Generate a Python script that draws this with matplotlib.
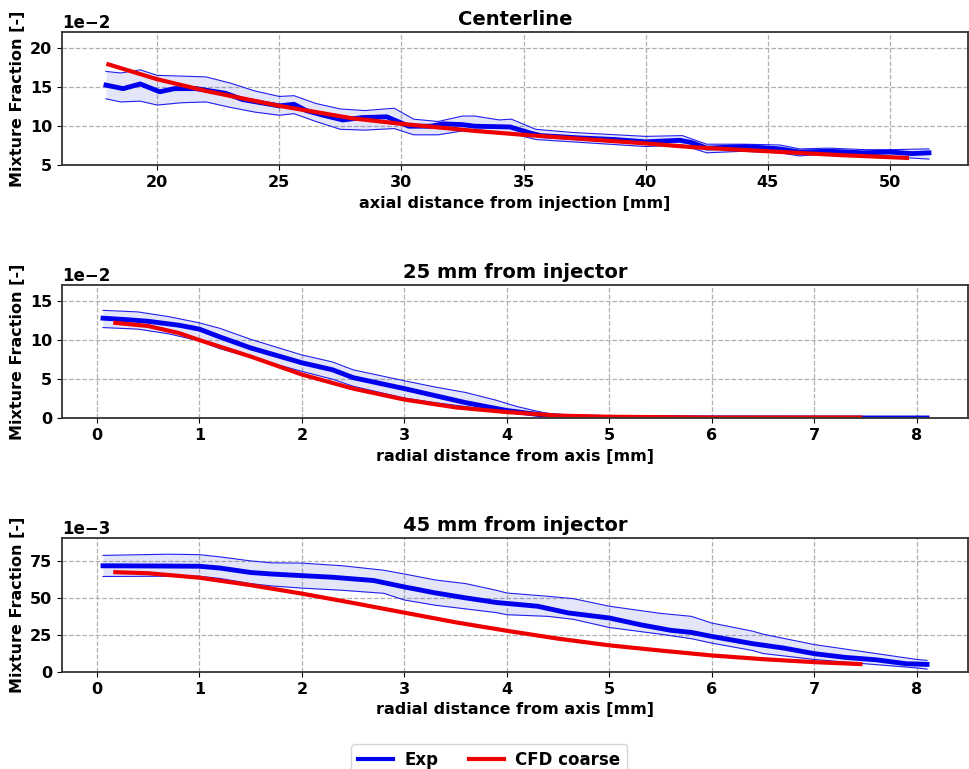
import numpy as np
import matplotlib
matplotlib.use("Agg")
import matplotlib.pyplot as plt
from matplotlib.ticker import MultipleLocator

# ---------------- Data ----------------
# Panel 1: Centerline (values in units of 1e-2)
cl_x_mean = [17.9, 18.6, 19.3, 20.1, 20.7, 21.6, 22.8, 23.5, 25.0, 25.6, 26.1, 26.8, 27.6, 28.4, 29.4, 29.7,
             30.3, 31.2, 31.7, 32.5, 33.0, 34.45, 35.3, 35.7, 37.3, 38.7, 40.0, 41.4, 41.9, 42.5, 44.1, 45.5,
             46.3, 47.5, 48.9, 50.0, 50.9, 51.6]
cl_mean = [15.25, 14.8, 15.4, 14.4, 14.8, 14.8, 14.2, 13.4, 12.6, 12.8, 12.0, 11.4, 10.8, 11.1, 11.2, 10.8,
           10.0, 10.0, 10.3, 10.2, 10.0, 9.9, 9.1, 8.8, 8.5, 8.3, 8.0, 8.2, 7.9, 7.2, 7.4, 7.1,
           6.7, 6.8, 6.6, 6.7, 6.5, 6.6]
cl_x_band = [17.9, 18.5, 19.3, 20.0, 21.0, 22.0, 23.0, 24.0, 25.0, 25.6, 26.5, 27.5, 28.5, 29.7, 30.5, 31.5,
             32.5, 33.0, 34.0, 34.5, 35.5, 37.0, 40.0, 41.5, 42.5, 44.0, 45.5, 46.3, 47.5, 49.0, 50.0, 51.6]
cl_upper = [17.0, 16.8, 17.2, 16.5, 16.4, 16.3, 15.5, 14.5, 13.8, 13.9, 12.9, 12.2, 12.0, 12.3, 10.9, 10.6,
            11.3, 11.3, 10.8, 10.9, 9.6, 9.2, 8.7, 8.8, 7.7, 7.7, 7.6, 7.1, 7.2, 7.0, 7.0, 7.1]
cl_lower = [13.5, 13.1, 13.2, 12.7, 13.0, 13.1, 12.4, 11.8, 11.4, 11.6, 10.6, 9.6, 9.5, 9.7, 8.9, 8.9,
            9.4, 9.6, 9.2, 9.1, 8.3, 8.0, 7.4, 7.6, 6.6, 6.8, 6.6, 6.2, 6.5, 6.1, 6.1, 5.8]
cl_x_cfd = [18.0, 20.0, 22.0, 25.0, 28.0, 30.0, 33.0, 35.0, 40.0, 42.0, 45.0, 48.0, 50.7]
cl_cfd = [17.9, 16.0, 14.5, 12.6, 11.0, 10.3, 9.4, 8.9, 7.8, 7.3, 6.8, 6.3, 5.95]

# Panel 2: 25 mm from injector (units of 1e-2)
r25_x_mean = [0.06, 0.3, 0.5, 0.8, 1.0, 1.2, 1.5, 2.0, 2.3, 2.5, 3.0, 3.3, 3.6, 4.0, 4.3, 4.6, 5.0, 6.0, 7.0, 8.1]
r25_mean = [12.8, 12.6, 12.4, 11.9, 11.4, 10.4, 9.0, 7.1, 6.2, 5.2, 3.8, 2.9, 2.0, 1.0, 0.5, 0.2, 0.1, 0.06, 0.05, 0.05]
r25_x_band = [0.06, 0.4, 0.7, 1.0, 1.2, 1.5, 2.0, 2.3, 2.5, 3.0, 3.3, 3.6, 3.9, 4.1, 4.4, 4.7, 5.0, 6.0, 7.0, 8.1]
r25_upper = [13.8, 13.6, 13.0, 12.2, 11.5, 10.1, 8.1, 7.2, 6.2, 4.8, 4.0, 3.3, 2.3, 1.5, 0.6, 0.2, 0.1, 0.07, 0.06, 0.06]
r25_lower = [11.6, 11.4, 10.8, 9.9, 8.9, 7.8, 6.0, 5.0, 4.1, 2.6, 2.0, 1.5, 1.0, 0.6, 0.3, 0.1, 0.05, 0.04, 0.04, 0.04]
r25_x_cfd = [0.18, 0.5, 0.8, 1.0, 1.5, 2.0, 2.5, 3.0, 3.5, 4.0, 4.5, 5.0, 6.0, 7.45]
r25_cfd = [12.2, 11.8, 10.9, 10.0, 7.9, 5.6, 3.8, 2.4, 1.4, 0.8, 0.35, 0.2, 0.1, 0.1]

# Panel 3: 45 mm from injector (units of 1e-3)
r45_x_mean = [0.06, 0.5, 1.0, 1.2, 1.5, 1.7, 2.0, 2.3, 2.7, 3.0, 3.3, 3.6, 3.9, 4.3, 4.6, 5.0, 5.3, 5.6, 5.8,
              6.0, 6.4, 6.7, 7.0, 7.3, 7.6, 7.9, 8.1]
r45_mean = [71.5, 71.4, 71.2, 70.0, 67.0, 66.0, 64.9, 63.8, 61.6, 57.3, 53.3, 49.9, 46.8, 44.3, 39.8, 36.4,
            31.9, 28.1, 26.7, 24.0, 19.1, 16.2, 12.4, 9.9, 8.3, 5.6, 5.2]
r45_x_band = [0.06, 0.7, 1.0, 1.2, 1.5, 1.7, 2.0, 2.4, 2.8, 3.0, 3.3, 3.6, 3.9, 4.0, 4.4, 4.65, 5.0, 5.5, 5.8,
              6.0, 6.4, 6.5, 7.0, 7.5, 8.0, 8.1]
r45_upper = [78.5, 79.3, 79.0, 77.5, 74.8, 73.5, 73.3, 71.5, 68.5, 66.0, 62.0, 59.5, 55.0, 53.2, 51.0, 49.4,
             44.3, 39.5, 37.5, 33.0, 27.5, 25.5, 18.5, 13.5, 8.5, 7.9]
r45_lower = [64.3, 64.5, 64.5, 63.0, 59.5, 58.0, 56.5, 55.0, 53.0, 48.5, 45.0, 42.5, 40.0, 38.6, 37.5, 35.5,
             30.0, 25.5, 22.5, 19.5, 14.5, 12.5, 8.5, 5.6, 2.8, 2.0]
r45_x_cfd = [0.18, 0.5, 1.0, 1.5, 2.0, 2.5, 3.0, 3.5, 4.0, 4.5, 5.0, 5.5, 6.0, 6.5, 7.0, 7.45]
r45_cfd = [67.2, 66.5, 63.5, 58.5, 52.8, 46.5, 40.0, 33.5, 27.8, 22.5, 18.0, 14.5, 11.2, 8.7, 6.7, 5.4]

titles = ["Centerline", "25 mm from injector", "45 mm from injector"]
xlabels = ["axial distance from injection [mm]", "radial distance from axis [mm]", "radial distance from axis [mm]"]
ylabel = "Mixture Fraction [-]"
legend_labels = ["Exp", "CFD coarse"]

# ---------------- Plot ----------------
plt.rcParams['font.family'] = ['DejaVu Sans']
plt.rcParams['font.weight'] = 'bold'
plt.rcParams['axes.labelweight'] = 'bold'
plt.rcParams['axes.titleweight'] = 'bold'

fig = plt.figure(figsize=(9.69, 7.69), dpi=100)

panels = [
    dict(xm=cl_x_mean, m=cl_mean, xb=cl_x_band, up=cl_upper, lo=cl_lower, xc=cl_x_cfd, c=cl_cfd,
         scale=1e-2, exp=-2, xlim=(16.1, 53.2), ylim=(5, 22), ystep=5, xstep=5,
         rect=[0.064, 0.785, 0.935, 0.173]),
    dict(xm=r25_x_mean, m=r25_mean, xb=r25_x_band, up=r25_upper, lo=r25_lower, xc=r25_x_cfd, c=r25_cfd,
         scale=1e-2, exp=-2, xlim=(-0.34, 8.5), ylim=(0, 17), ystep=5, xstep=1,
         rect=[0.064, 0.456, 0.935, 0.173]),
    dict(xm=r45_x_mean, m=r45_mean, xb=r45_x_band, up=r45_upper, lo=r45_lower, xc=r45_x_cfd, c=r45_cfd,
         scale=1e-3, exp=-3, xlim=(-0.34, 8.5), ylim=(0, 90), ystep=25, xstep=1,
         rect=[0.064, 0.126, 0.935, 0.174]),
]

for i, p in enumerate(panels):
    ax = fig.add_axes(p['rect'])
    s = p['scale']
    xb = np.array(p['xb'])
    up = np.array(p['up']) * s
    lo = np.array(p['lo']) * s
    ax.fill_between(xb, lo, up, color='#0000cc', alpha=0.1, linewidth=0)
    ax.plot(xb, up, color='#2020ee', lw=0.8)
    ax.plot(xb, lo, color='#2020ee', lw=0.8)
    l1, = ax.plot(p['xm'], np.array(p['m']) * s, color='#0000ee', lw=3.5, label=legend_labels[0])
    l2, = ax.plot(p['xc'], np.array(p['c']) * s, color='#ee0000', lw=3.0, label=legend_labels[1])
    ax.set_xlim(*p['xlim'])
    ax.set_ylim(p['ylim'][0] * s, p['ylim'][1] * s)
    ax.xaxis.set_major_locator(MultipleLocator(p['xstep']))
    ax.yaxis.set_major_locator(MultipleLocator(p['ystep'] * s))
    ax.ticklabel_format(axis='y', style='sci', scilimits=(p['exp'], p['exp']))
    ax.yaxis.get_offset_text().set_fontsize(12)
    ax.yaxis.get_offset_text().set_fontweight('bold')
    ax.grid(True, linestyle='--', color='#b0b0b0', lw=0.9)
    ax.set_axisbelow(True)
    ax.tick_params(labelsize=11.5)
    for sp in ax.spines.values():
        sp.set_color('#333333')
        sp.set_linewidth(1.3)
    ax.set_title(titles[i], fontsize=14, fontweight='bold', pad=5)
    ax.set_xlabel(xlabels[i], fontsize=11.5, fontweight='bold', labelpad=4)
    ax.set_ylabel(ylabel, fontsize=11.5, fontweight='bold')
    ax.yaxis.set_label_coords(-0.041, 0.5)
    if i == 2:
        handles = [l1, l2]

leg = fig.legend(handles, legend_labels, loc='upper center', bbox_to_anchor=(0.505, 0.043), ncol=2,
                 frameon=True, handlelength=2.1, columnspacing=1.8, handletextpad=0.7,
                 prop={'weight': 'bold', 'size': 12})
for h in leg.get_lines():
    h.set_linewidth(3.0)

fig.savefig("out.png", dpi=100)
